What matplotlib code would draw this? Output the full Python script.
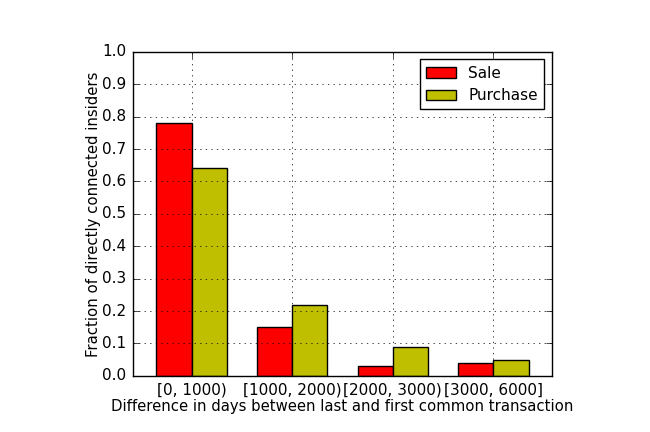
import numpy as np
import matplotlib
matplotlib.use('Agg')
import matplotlib.pyplot as plt

plt.style.use('classic')

# datos
categorias = ['[0, 1000)', '[1000, 2000)', '[2000, 3000)', '[3000, 6000]']
venta = [0.78, 0.15, 0.03, 0.04]
compra = [0.64, 0.22, 0.09, 0.05]

ancho = 0.35
idx = np.arange(len(categorias))

fig = plt.figure(figsize=(6.5, 4.32), dpi=100)
ax = fig.add_axes([0.205, 0.13, 0.644, 0.75])
ax.bar(idx, venta, ancho, color='r', label='Sale', align='edge')
ax.bar(idx + ancho, compra, ancho, color='y', label='Purchase', align='edge')

ax.set_xlim(-0.23, 3.93)
ax.set_ylim(0, 1.0)
ax.set_yticks(np.arange(0, 1.01, 0.1))
ax.set_xticks(idx + ancho)
ax.set_xticklabels(categorias, fontsize=11)
ax.tick_params(axis='both', labelsize=11, pad=5)
ax.set_xlabel('Difference in days between last and first common transaction',
              fontsize=10.7, labelpad=1)
ax.set_ylabel('Fraction of directly connected insiders', fontsize=10.7, labelpad=1)
ax.grid(True)
ax.legend(loc='upper right', fontsize=11)

fig.savefig('out.png', dpi=100)
